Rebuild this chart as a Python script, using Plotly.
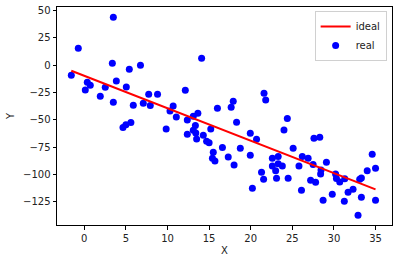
import plotly.graph_objects as go

real_x = [-1.56, -0.72, 0.12, 0.36, 0.72, 1.92, 2.52, 3.37, 3.49, 3.49,
          3.85, 4.65, 5.0, 5.6, 5.05, 5.41, 5.89, 6.75, 7.09, 7.74,
          7.93, 8.8, 9.84, 10.3, 10.68, 11.06, 12.14, 12.38, 12.38, 13.1,
          13.35, 13.4, 13.5, 13.65, 13.1, 14.1, 14.3, 14.7, 15.0, 15.2,
          15.5, 15.4, 15.7, 16.0, 16.6, 17.3, 17.65, 17.9, 18.0, 18.3,
          18.75, 19.95, 20.7, 19.95, 20.2, 21.3, 21.55, 21.6, 21.8, 22.6,
          23.3, 22.6, 23.3, 23.0, 23.8, 23.1, 24.0, 24.4, 24.5, 25.1,
          25.8, 26.1, 26.2, 26.9, 27.6, 28.3, 27.5, 27.2, 27.8, 28.4,
          28.45, 29.1, 28.7, 29.8, 30.2, 30.3, 30.7, 31.3, 31.25, 31.7,
          32.3, 32.9, 33.1, 33.3, 33.3, 34.0, 34.6, 35.0, 35.0]
real_y = [-9.1, 15.6, -22.6, -15.6, -18.3, -28.4, -20.1, 1.8, 44.0, -33.9,
          -14.4, -57.0, -54.3, -52.3, -19.9, -3.7, -36.6, 0.0, -34.8, -26.5,
          -36.8, -26.5, -58.4, -41.8, -37.2, -47.4, -22.9, -50.0, -63.1, -59.4,
          -55.0, -62.0, -67.5, -43.8, -46.6, 6.4, -63.9, -69.6, -70.8, -58.4,
          -79.5, -85.1, -87.6, -39.2, -75.2, -84.0, -38.3, -32.8, -91.3, -52.2,
          -75.9, -62.2, -67.7, -82.2, -112.4, -97.8, -104.3, -25.6, -31.8, -85.1,
          -83.4, -92.2, -90.0, -96.4, -92.2, -103.4, -59.3, -48.6, -103.4, -75.9,
          -92.2, -114.4, -83.4, -85.0, -66.8, -65.9, -90.8, -105.2, -107.0, -99.5,
          -95.8, -88.8, -123.5, -118.0, -99.5, -103.5, -106.8, -103.7, -124.4, -116.2,
          -113.4, -137.2, -104.2, -103.2, -120.8, -96.4, -81.4, -94.2, -123.5]

ideal_x = [-1.56, 35.0]
ideal_y = [-5.0, -113.5]

x_ticks = [0, 5, 10, 15, 20, 25, 30, 35]
y_ticks = [-125, -100, -75, -50, -25, 0, 25, 50]

font = dict(family="DejaVu Sans", size=10, color="#222222")

fig = go.Figure()
fig.add_trace(go.Scatter(x=real_x, y=real_y, mode="markers", name="real",
                         marker=dict(color="#0000ff", size=7, line=dict(width=0))))
fig.add_trace(go.Scatter(x=ideal_x, y=ideal_y, mode="lines", name="ideal",
                         line=dict(color="#ff0000", width=2)))

axis_common = dict(showgrid=False, zeroline=False, showline=True, linecolor="black",
                   linewidth=1, mirror=True, ticks="outside", ticklen=3.5,
                   tickcolor="black", tickfont=font)
fig.update_layout(
    width=397, height=263,
    margin=dict(l=57, r=5, t=7, b=38),
    paper_bgcolor="white", plot_bgcolor="white",
    font=font,
    xaxis=dict(range=[-3.28, 36.98], tickvals=x_ticks,
               title=dict(text="X", font=font, standoff=4), **axis_common),
    yaxis=dict(range=[-146.1, 53.3], tickvals=y_ticks,
               title=dict(text="Y", font=font, standoff=6), **axis_common),
    legend=dict(x=0.984, y=0.982, xanchor="right", yanchor="top",
                traceorder="reversed", bgcolor="white", bordercolor="#d0d0d0",
                borderwidth=1, font=font, itemwidth=30),
    showlegend=True,
)
fig.write_html("out.html")
